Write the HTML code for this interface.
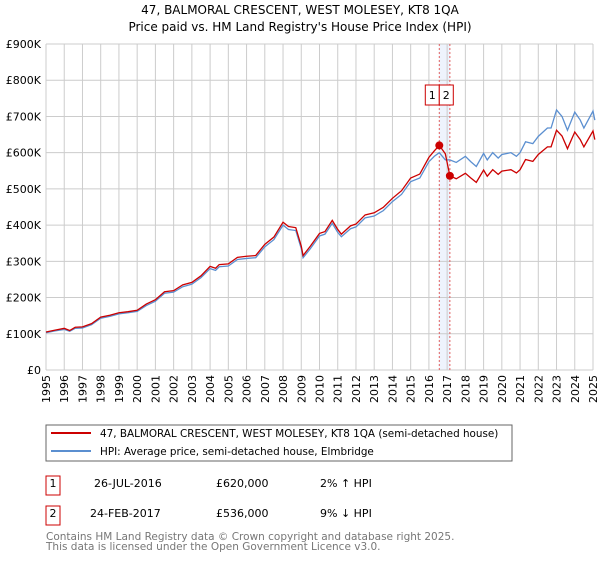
<!DOCTYPE html>
<html><head><meta charset="utf-8"><style>
body{margin:0;background:#fff;font-family:"DejaVu Sans","Liberation Sans",sans-serif;}
svg text{font-family:"DejaVu Sans","Liberation Sans",sans-serif;}
</style></head><body>
<svg id="chart" width="600" height="560" xmlns="http://www.w3.org/2000/svg">
<text x="300" y="14" text-anchor="middle" font-size="12">47, BALMORAL CRESCENT, WEST MOLESEY, KT8 1QA</text>
<text x="300" y="31" text-anchor="middle" font-size="12">Price paid vs. HM Land Registry's House Price Index (HPI)</text>
<g id="grid"></g>
<g id="axes"></g>
<g id="series"></g>
<g>
<rect x="46" y="425" width="466" height="36" fill="#fff" stroke="#666"/>
<line x1="51" y1="433" x2="91" y2="433" stroke="#cc0000" stroke-width="2"/>
<text x="100" y="437" font-size="10.4">47, BALMORAL CRESCENT, WEST MOLESEY, KT8 1QA (semi-detached house)</text>
<line x1="51" y1="451" x2="91" y2="451" stroke="#5b8fd0" stroke-width="2"/>
<text x="100" y="455" font-size="10.4">HPI: Average price, semi-detached house, Elmbridge</text>
</g>
<g font-size="11">
<rect x="46" y="476" width="14" height="19" fill="#fff" stroke="#cc0000"/>
<text x="53" y="487" text-anchor="middle">1</text>
<text x="94" y="487">26-JUL-2016</text>
<text x="216" y="487">£620,000</text>
<text x="320" y="487">2% ↑ HPI</text>
<rect x="46" y="506" width="14" height="19" fill="#fff" stroke="#cc0000"/>
<text x="53" y="517" text-anchor="middle">2</text>
<text x="90" y="517">24-FEB-2017</text>
<text x="216" y="517">£536,000</text>
<text x="320" y="517">9% ↓ HPI</text>
</g>
<text x="46" y="540" font-size="10.5" fill="#777">Contains HM Land Registry data © Crown copyright and database right 2025.</text>
<text x="46" y="550" font-size="10.5" fill="#777">This data is licensed under the Open Government Licence v3.0.</text>
</svg>
<script>
const yTicks=[0,100,200,300,400,500,600,700,800,900];
const yTickLabels=["£0","£100K","£200K","£300K","£400K","£500K","£600K","£700K","£800K","£900K"];
const years=[1995,1996,1997,1998,1999,2000,2001,2002,2003,2004,2005,2006,2007,2008,2009,2010,2011,2012,2013,2014,2015,2016,2017,2018,2019,2020,2021,2022,2023,2024,2025];
const dates=[1995,1995.5,1996,1996.3,1996.6,1997,1997.5,1998,1998.5,1999,1999.5,2000,2000.5,2001,2001.5,2002,2002.5,2003,2003.5,2004,2004.3,2004.5,2005,2005.5,2006,2006.5,2007,2007.5,2008,2008.3,2008.7,2009,2009.1,2009.5,2010,2010.3,2010.7,2011,2011.2,2011.7,2012,2012.5,2013,2013.5,2014,2014.5,2015,2015.5,2016,2016.3,2016.57,2016.9,2017.15,2017.5,2018,2018.3,2018.6,2019,2019.2,2019.5,2019.8,2020,2020.5,2020.8,2021,2021.3,2021.7,2022,2022.5,2022.7,2023,2023.3,2023.6,2024,2024.3,2024.5,2025,2025.1];
const hpiValues=[103,108,112,107,115,116,125,143,148,155,158,162,178,190,212,215,230,237,255,280,275,285,287,305,308,310,340,360,400,388,385,335,310,335,370,375,405,380,368,390,395,420,425,440,465,485,520,530,575,590,600,580,580,573,590,575,562,598,580,600,585,595,600,590,600,630,625,645,668,668,718,700,662,712,690,668,715,690];
const priceValues=[105,110,115,109,118,119,128,146,151,158,161,165,182,194,216,219,235,242,260,286,281,291,293,311,314,316,347,367,408,396,393,342,316,342,377,382,413,388,375,398,403,428,434,449,474,495,530,541,587,605,620,597,536,528,543,530,518,552,535,553,540,549,553,544,553,581,576,595,616,616,662,646,611,657,636,616,660,636];
const sales=[[2016.57,620],[2017.15,536]];
const NS="http://www.w3.org/2000/svg";
const L=46,R=593,T=44,B=370;
const xS=d=>L+(d-1995)/30*(R-L);
const yS=v=>B-v/900*(B-T);
function mk(tag,attrs,parent){const e=document.createElementNS(NS,tag);for(const k in attrs)e.setAttribute(k,attrs[k]);parent.appendChild(e);return e;}
const grid=document.getElementById('grid'),axes=document.getElementById('axes'),ser=document.getElementById('series');
mk('rect',{x:xS(sales[0][0]),y:T,width:xS(sales[1][0])-xS(sales[0][0]),height:B-T,fill:'#eef3fc'},grid);
years.forEach(y=>{const l=mk('line',{x1:xS(y),x2:xS(y),y1:T,y2:B,stroke:'#cccccc'},grid);


const t=mk('text',{x:0,y:0,'font-size':11,'text-anchor':'end',transform:`translate(${xS(y)+4},${B+5}) rotate(-90)`},axes);t.textContent=y;

});
yTicks.forEach((v,i)=>{const l=mk('line',{x1:L,x2:R,y1:yS(v),y2:yS(v),stroke:'#cccccc'},grid);


const t=mk('text',{x:L-5,y:yS(v)+4,'font-size':11,'text-anchor':'end'},axes);t.textContent=yTickLabels[i];

});
sales.forEach((s,i)=>{const l=mk('line',{x1:xS(s[0]),x2:xS(s[0]),y1:T,y2:B,stroke:'#e06060','stroke-dasharray':'2,2'},grid);

});
const hp=mk('polyline',{points:dates.map((d,i)=>xS(d)+','+yS(hpiValues[i])).join(' '),fill:'none',stroke:'#5b8fd0','stroke-width':1.3},ser);


const pp=mk('polyline',{points:dates.map((d,i)=>xS(d)+','+yS(priceValues[i])).join(' '),fill:'none',stroke:'#cc0000','stroke-width':1.3},ser);


const bx0=xS(sales[0][0]);
sales.forEach((s,i)=>{const c=mk('circle',{cx:xS(s[0]),cy:yS(s[1]),r:4,fill:'#cc0000'},ser);


const bx=i===0?bx0-14:bx0;
const r=mk('rect',{x:bx,y:85,width:14,height:20,fill:'#fff',stroke:'#cc0000'},ser);


const t=mk('text',{x:bx+7,y:99,'font-size':11,'text-anchor':'middle'},ser);t.textContent=String(i+1);

});
</script>
</body></html>
